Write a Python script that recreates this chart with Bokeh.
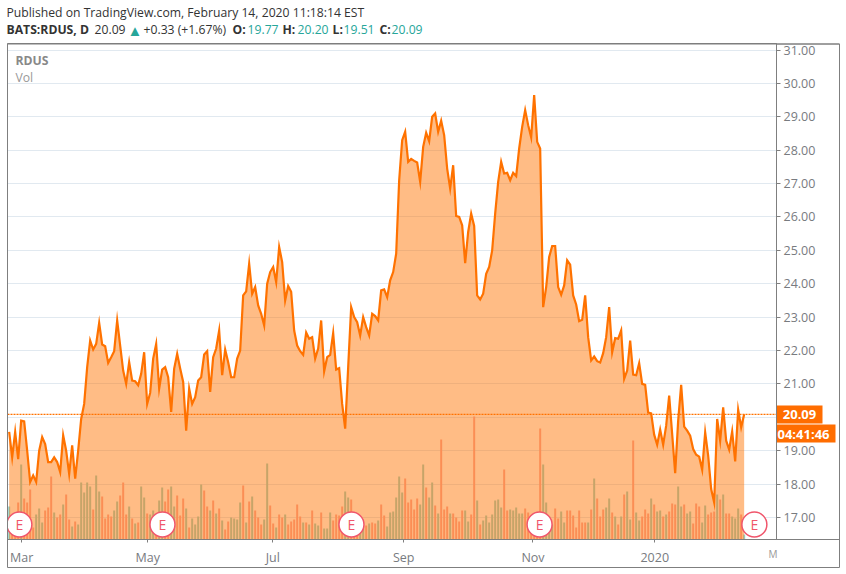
from bokeh.plotting import figure
from bokeh.models import (Range1d, LinearAxis, FixedTicker, NumeralTickFormatter, Span, Label,
                          BoxAnnotation, Grid)
from bokeh.embed import file_html
from bokeh.resources import INLINE

price = [19.56,18.8,19.56,18.75,19.9,19.88,19.0,18.06,18.26,18.06,19.0,19.41,19.2,18.66,18.66,18.8,18.66,18.36,19.46,19.0,18.3,19.16,18.16,19.0,19.95,
 20.4,21.5,22.3,22.03,22.2,22.83,22.18,22.13,21.63,21.8,21.98,22.9,22.15,21.4,21.0,21.65,21.1,21.08,20.96,21.3,21.95,20.4,20.73,21.76,22.2,20.86,21.43,21.5,21.2,20.16,21.46,21.9,21.46,21.06,19.6,20.86,20.4,20.6,21.1,21.2,21.88,21.98,20.76,21.8,22.06,22.6,21.26,22.03,21.65,21.2,21.2,21.76,22.0,23.65,23.77,24.6,23.7,23.9,23.35,23.1,22.75,24.0,24.35,24.5,24.05,25.1,
 24.65,23.5,23.93,23.76,22.6,22.15,21.98,21.87,22.54,22.35,22.4,21.76,22.06,22.9,21.38,21.8,21.87,22.52,21.43,21.47,20.4,19.66,21.5,23.3,23.0,22.85,22.45,23.0,22.7,22.45,23.1,23.03,22.9,23.8,23.83,23.6,
 24.1,24.35,24.9,27.1,28.3,28.55,27.65,27.74,27.68,27.63,27.05,28.1,28.52,28.27,29.0,29.1,28.55,28.88,28.45,27.45,26.85,27.55,26.03,26.0,25.75,24.62,25.55,26.1,25.73,23.65,23.53,23.7,24.3,24.5,25.0,26.1,27.05,27.65,27.3,27.32,27.1,27.32,27.22,28.05,28.7,29.2,28.75,28.38,29.65,28.25,28.05,
 23.3,23.9,24.8,25.13,25.13,23.9,23.67,23.95,24.7,24.57,23.65,23.38,22.88,22.92,23.65,22.4,21.7,21.82,21.68,21.64,21.92,22.4,23.3,21.95,22.37,22.35,22.6,21.15,21.4,22.3,21.28,21.26,21.62,21.0,20.97,20.14,20.12,19.48,19.18,19.63,19.18,19.75,20.65,19.5,18.33,19.9,20.97,19.72,19.6,19.45,19.05,18.88,18.82,18.43,19.55,18.85,17.85,17.45,19.95,19.3,20.3,19.3,19.03,19.58,18.68,20.23,19.7,20.09]

volume = [33,8,12,37,75,41,37,50,12,25, 31,17,29,32,63,27,22,25,35,45, 20,13,18,15,57,47,57,53,30,64, 48,43,21,25,23,29,38,44,57,25,
 33,21,16,17,53,42,26,25,29,22, 39,52,38,50,53,33,44,24,41,31, 12,21,15,23,55,49,33,29,39,26, 31,19,10,18,22,21,20,37,54,17,
 38,43,29,22,15,20,76,34,16,12, 25,
 22,25,15,18,20,35,23,17,17,15, 29,16,14,27,11,11,27,19,25,24, 33,48,42,40,18,14,12,12,14,16, 17,16,19,35,24,13,27,28,42,63,
 47,61,37,40,30,41,35,75,52,42, 57,34,26,100,30,33,26,26,22,18, 29,29,18,25,123,39,15,19,24,17, 25,39,40,32,70,29,30,29,32,26,
 26,31,27,20,15,14,111,75,37,23, 15,31,21,
 28,17,29,29,24,12,29,17,17,17, 30,61,41,23,30,32,41,27,23,15, 23,45,48,20,99,27,19,23,30,26, 41,35,28,29,23,25,28,36,35,53,
 33,35,26,28,16,36,33,17,34,25, 27,28,45,40,45,26,26,23,21,31, 25,5]
direction = ("uddduddddu" "uuddduddud" "duduuuuudu" "uddddu" "uddd" "ududuuduud" "uuddu" "uddd" "u"
             "duuuuddudu" "dudduuuudu" "duddduuddu" "d"
             "dudddddudu" "duuduuuddd" "duuddduudu" "ddudduuuuu" "uddddduudu" "ududdduddd" "duuddud" "uuu" "uuuuddu" "uuu"
             "udddddduuu" "udd"
             "uuddddddd" "u" "duddduudud" "uduuduuddd" "uduududdd" "u" "uduuddduud" "ddududduuu" "du")
assert len(volume) == len(price) == len(direction), (len(volume), len(price), len(direction))

ticks_y = [17,18,19,20,21,22,23,24,25,26,27,28,29,30,31]
axis_ticks_y = [t for t in ticks_y if t != 20]
x_ticks = [4.2,46.2,87.9,131.5,174.6,215.2]
x_labels = ["Mar","May","Jul","Sep","Nov","2020"]
earnings = [3.4,51.1,114.1,176.8,248.4]

FONT = "Open Sans"
ORANGE = "#ff7200"
GRAY = "#7f7f7f"
TXT = "#787b7f"
TEAL = "#26a69a"

def dx(px): return (px - 8.67) / 3.0
def dy(py): return 31 - (py - 50) / 33.357

p = figure(width=846, height=574, output_backend="svg", toolbar_location=None,
           x_axis_type=None, y_axis_type=None,
           x_range=Range1d(dx(7), dx(776)), y_range=Range1d(dy(539), dy(43.5)),
           min_border_left=7, min_border_right=70, min_border_top=43, min_border_bottom=35,
           background_fill_color="white", border_fill_color="white",
           outline_line_color=GRAY)
p.extra_y_ranges = {"vol": Range1d(0, 496)}

yax = LinearAxis(ticker=FixedTicker(ticks=axis_ticks_y), formatter=NumeralTickFormatter(format="0.00"))
yax.axis_line_color = GRAY; yax.major_tick_line_color = GRAY
yax.major_tick_out = 4; yax.major_tick_in = 0; yax.minor_tick_line_color = None
yax.major_label_text_font = FONT; yax.major_label_text_font_size = "12.5px"
yax.major_label_text_color = TXT; yax.major_label_standoff = 3
p.add_layout(yax, "right")

xax = LinearAxis(ticker=FixedTicker(ticks=x_ticks),
                 major_label_overrides=dict(zip(x_ticks, x_labels)))
xax.axis_line_color = GRAY; xax.major_tick_line_color = GRAY
xax.major_tick_out = 3; xax.major_tick_in = 0; xax.minor_tick_line_color = None
xax.major_label_text_font = FONT; xax.major_label_text_font_size = "12.5px"
xax.major_label_text_color = TXT; xax.major_label_standoff = 6
p.add_layout(xax, "below")

p.add_layout(Grid(dimension=1, ticker=FixedTicker(ticks=ticks_y), grid_line_color="#e1e9f0", grid_line_width=1))

n = len(price)
idx = list(range(n))
colors = ["#93d1c9" if d == "u" else "#f8a8a4" for d in direction]
p.vbar(x=idx, top=volume, bottom=0, width=0.67, y_range_name="vol", fill_color=colors, line_color=None)
base = [dy(539)] * n
p.varea(x=idx, y1=base, y2=price, fill_color=ORANGE, fill_alpha=0.48)
p.line(x=idx, y=price, line_color=ORANGE, line_width=2.2, line_join="miter")
p.add_layout(Span(location=price[-1], dimension="width", line_color=ORANGE, line_width=1.2, line_dash="2 1"))

# earnings badges
ey = [15] * len(earnings)
p.scatter(x=earnings, y=ey, size=25, marker="circle", y_range_name="vol", fill_color="white",
          line_color="#f0566c", line_width=1.5)
for e in earnings:
    p.add_layout(Label(x=e, y=15, y_range_name="vol", text="E", text_color="#f0566c", text_font=FONT,
                       text_font_size="14px", text_align="center", text_baseline="middle"))

# transparent full-window layer for the header, price tags and the outer frame
q = figure(width=846, height=574, output_backend="svg", toolbar_location=None,
           x_axis_type=None, y_axis_type=None, x_range=Range1d(0, 846), y_range=Range1d(574, 0),
           min_border=0, margin=(-574, 0, 0, 0), background_fill_alpha=0, border_fill_alpha=0,
           outline_line_color=None)
q.xgrid.visible = False
q.ygrid.visible = False

def lab(px, py, t, color="#333333", style="normal", size="12.2px", align="left"):
    q.add_layout(Label(x=px, y=py, text=t, text_color=color, text_font=FONT, text_font_style=style,
                       text_font_size=size, text_align=align, text_baseline="middle"))

def box(l, r, t, b, fill=None, line=None):
    q.add_layout(BoxAnnotation(left=l, right=r, top=t, bottom=b,
                               fill_color=fill, fill_alpha=1 if fill else 0,
                               line_color=line, line_alpha=1 if line else 0))

box(776, 822, 405, 423, fill="#ff6d00")
box(776, 835, 424, 442, fill="#ff6d00")
box(7, 839, 43.5, 567, line=GRAY)
box(776, 839, 43.5, 539, line=GRAY)
lab(799, 414, "20.09", color="white", style="bold", size="13px", align="center")
lab(803, 433, "04:41:46", color="white", style="bold", size="13px", align="center")

lab(6, 12, "Published on TradingView.com, February 14, 2020 11:18:14 EST")
lab(6, 29, "BATS:RDUS, D", style="bold")
lab(94, 29, "20.09")
lab(127, 29, "\u25b2", color=TEAL, size="15px")
lab(143, 29, "+0.33 (+1.67%)")
for px, t in [(232, "O:"), (282, "H:"), (332, "L:"), (379, "C:")]:
    lab(px, 29, t, style="bold")
for px, t in [(247, "19.77"), (297, "20.20"), (343, "19.51"), (391, "20.09")]:
    lab(px, 29, t, color=TEAL)
lab(15, 60, "RDUS", color="#888888", style="bold")
lab(15, 77, "Vol", color="#999999")
lab(768, 553, "M", color="#999999", size="10px")

open("out.html", "w").write(file_html([p, q], INLINE))
